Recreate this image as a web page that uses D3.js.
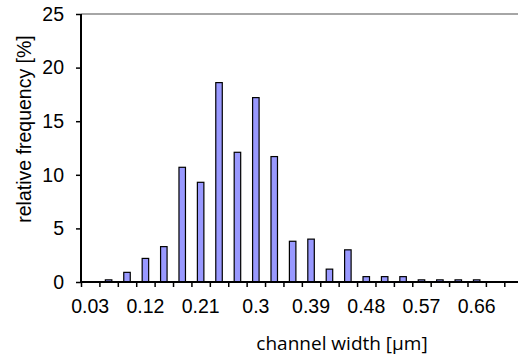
<!DOCTYPE html>
<html>
<head>
<meta charset="utf-8">
<script src="https://cdn.jsdelivr.net/npm/d3@7"></script>
<style>
  body { margin: 0; background: #fff; }
  svg { display: block; }
</style>
</head>
<body>
<div id="chart"></div>
<script>
// channel width bins (µm) and relative frequency (%)
const widths = [0.03, 0.06, 0.09, 0.12, 0.15, 0.18, 0.21, 0.24, 0.27, 0.30, 0.33, 0.36,
                0.39, 0.42, 0.45, 0.48, 0.51, 0.54, 0.57, 0.60, 0.63, 0.66, 0.69, 0.72];
const freq = [0, 0.2, 0.9, 2.2, 3.3, 10.7, 9.3, 18.6, 12.1, 17.2, 11.7, 3.8,
              4.0, 1.2, 3.0, 0.5, 0.5, 0.5, 0.2, 0.2, 0.2, 0.2, 0, 0];
const xLabels = ["0.03", "0.12", "0.21", "0.3", "0.39", "0.48", "0.57", "0.66"];
const yTicks = [0, 5, 10, 15, 20, 25];

const svgWidth = 518;
const svgHeight = 356;
const margin = {top: 14, left: 81, bottom: 74};
const plotRight = 522.7;  // plot runs past the right edge of the picture

const svg = d3.select("#chart")
  .append("svg")
    .attr("width", svgWidth)
    .attr("height", svgHeight);

const data = widths.map((w, i) => ({label: d3.format(".2~f")(w), value: freq[i]}));

const x = d3.scaleBand()
  .domain(data.map(d => d.label))
  .range([margin.left, plotRight]);

const y = d3.scaleLinear()
  .domain([0, 25])
  .range([svgHeight - margin.bottom, margin.top]);

const tickFont = "'Liberation Sans', Arial, sans-serif";

// top border line
svg.append("line")
  .attr("x1", margin.left).attr("x2", svgWidth)
  .attr("y1", y(25)).attr("y2", y(25))
  .attr("stroke", "#888").attr("stroke-width", 1.5);

// bars
const barW = 6.5;
svg.append("g")
  .selectAll("rect")
  .data(data.filter(d => d.value > 0))
  .join("rect")
    .attr("x", d => x(d.label) + x.bandwidth() / 2 - barW / 2)
    .attr("y", d => y(d.value))
    .attr("width", barW)
    .attr("height", d => y(0) - y(d.value))
    .attr("fill", "#9999ff")
    .attr("stroke", "#000")
    .attr("stroke-width", 1.2);

// y axis
svg.append("g")
  .attr("transform", `translate(${margin.left},0)`)
  .call(d3.axisLeft(y).tickValues(yTicks).tickSize(5).tickPadding(12))
  .call(g => g.select(".domain").attr("stroke-width", 2).attr("d", `M0,${y(0)}V${y(25)}`))
  .call(g => g.selectAll(".tick line").attr("stroke-width", 1.5))
  .call(g => g.selectAll(".tick text")
    .attr("font-family", tickFont).attr("font-size", "19.5px").attr("fill", "#000"));

// x axis: ticks at category boundaries, labels every third bin
const bounds = d3.range(widths.length + 1);
const xb = d3.scaleLinear().domain([0, widths.length]).range([margin.left, plotRight]);
svg.append("g")
  .attr("transform", `translate(0,${y(0)})`)
  .call(d3.axisBottom(xb).tickValues(bounds).tickSize(5).tickFormat(""))
  .call(g => g.select(".domain").attr("stroke-width", 2).attr("d", `M${margin.left},0H${plotRight}`))
  .call(g => g.selectAll(".tick line").attr("stroke-width", 1.5));

svg.append("g")
  .selectAll("text")
  .data(xLabels)
  .join("text")
    .attr("x", d => x(data.find(e => +e.label === +d).label) + x.bandwidth() / 2)
    .attr("y", 312.5)
    .attr("text-anchor", "middle")
    .attr("font-family", tickFont)
    .attr("font-size", "19.5px")
    .text(d => d);

// axis titles
svg.append("text")
  .attr("transform", "translate(31,129) rotate(-90)")
  .attr("text-anchor", "middle")
  .attr("font-family", tickFont)
  .attr("font-size", "19.5px")
  .text("relative frequency [%]");

svg.append("text")
  .attr("x", 342)
  .attr("y", 350)
  .attr("text-anchor", "middle")
  .attr("font-family", "'Open Sans', sans-serif")
  .attr("font-size", "19px")
  .text("channel width [µm]");
</script>
</body>
</html>
